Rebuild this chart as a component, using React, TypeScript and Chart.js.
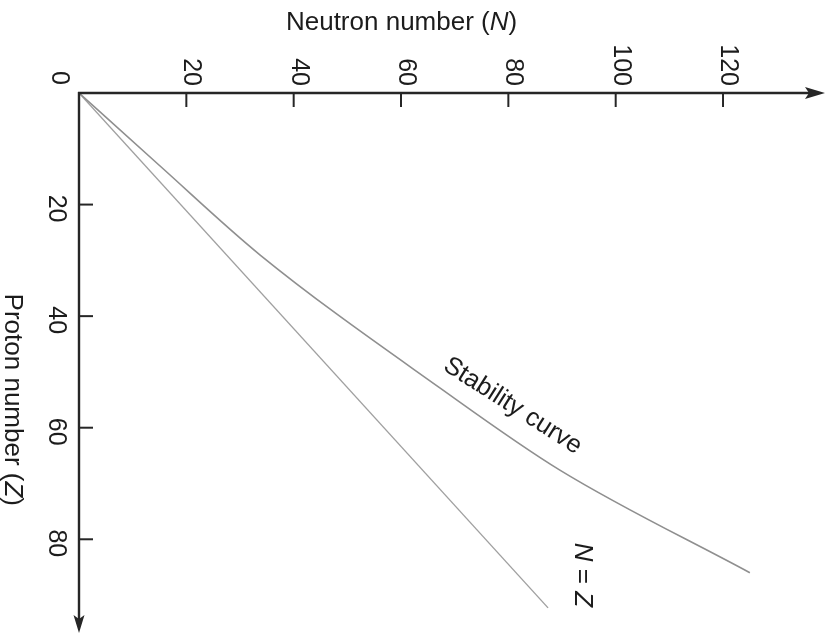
import { useEffect, useRef } from "react";
import { Chart, registerables } from "chart.js";

Chart.register(...registerables);

// Axis ticks
const neutronTicks = [20, 40, 60, 80, 100, 120];
const protonTicks = [20, 40, 60, 80];

// Stability curve (N, Z)
const stabilityN = [0, 15, 33.7, 67.3, 89.6, 125];
const stabilityZ = [0, 13, 29, 52.9, 67.6, 86];

// N = Z reference line
const equalN = [0, 87.4];
const equalZ = [0, 92.3];

// Axis extents (arrow tips)
const N_MAX = 139;
const Z_MAX = 96.8;

const FONT = '"Liberation Sans", Arial, Helvetica, sans-serif';
const INK = "#1c1c1c";

type Run = { text: string; italic?: boolean };

function drawRuns(
  ctx: CanvasRenderingContext2D,
  parts: Run[],
  x: number,
  y: number,
  angle: number,
  align: "left" | "center" | "right",
  size: number
) {
  ctx.save();
  ctx.translate(x, y);
  ctx.rotate(angle);
  ctx.textBaseline = "middle";
  ctx.textAlign = "left";
  ctx.fillStyle = INK;
  const fontOf = (p: Run) => `${p.italic ? "italic " : ""}${size}px ${FONT}`;
  const widths = parts.map((p) => {
    ctx.font = fontOf(p);
    return ctx.measureText(p.text).width;
  });
  const total = widths.reduce((a, b) => a + b, 0);
  let cx = align === "center" ? -total / 2 : align === "right" ? -total : 0;
  parts.forEach((p, i) => {
    ctx.font = fontOf(p);
    ctx.fillText(p.text, cx, 0);
    cx += widths[i];
  });
  ctx.restore();
}

const axesPlugin = {
  id: "nuclideAxes",
  afterDatasetsDraw(chart: any) {
    const ctx: CanvasRenderingContext2D = chart.ctx;
    const xs = chart.scales.x;
    const ys = chart.scales.y;
    const x0 = xs.getPixelForValue(0);
    const y0 = ys.getPixelForValue(0);
    const xEnd = xs.getPixelForValue(N_MAX);
    const yEnd = ys.getPixelForValue(Z_MAX);

    ctx.save();
    ctx.strokeStyle = "#262626";
    ctx.fillStyle = "#262626";
    ctx.lineWidth = 2.4;
    ctx.lineCap = "butt";

    // horizontal (N) axis
    ctx.beginPath();
    ctx.moveTo(x0 - 1, y0);
    ctx.lineTo(xEnd - 12, y0);
    ctx.stroke();
    ctx.beginPath();
    ctx.moveTo(xEnd, y0);
    ctx.lineTo(xEnd - 20, y0 - 6);
    ctx.lineTo(xEnd - 16, y0);
    ctx.lineTo(xEnd - 20, y0 + 6);
    ctx.closePath();
    ctx.fill();

    // vertical (Z) axis
    ctx.beginPath();
    ctx.moveTo(x0, y0 - 1);
    ctx.lineTo(x0, yEnd - 12);
    ctx.stroke();
    ctx.beginPath();
    ctx.moveTo(x0, yEnd);
    ctx.lineTo(x0 - 5.5, yEnd - 18);
    ctx.lineTo(x0, yEnd - 14);
    ctx.lineTo(x0 + 5.5, yEnd - 18);
    ctx.closePath();
    ctx.fill();

    // tick marks
    ctx.lineWidth = 2;
    neutronTicks.forEach((v) => {
      const px = xs.getPixelForValue(v);
      ctx.beginPath();
      ctx.moveTo(px, y0);
      ctx.lineTo(px, y0 + 14);
      ctx.stroke();
    });
    protonTicks.forEach((v) => {
      const py = ys.getPixelForValue(v);
      ctx.beginPath();
      ctx.moveTo(x0, py);
      ctx.lineTo(x0 + 14, py);
      ctx.stroke();
    });
    ctx.restore();

    const rot = Math.PI / 2;
    const size = 25;
    const titleSize = 26;

    // tick labels
    neutronTicks.forEach((v) => {
      const px = xs.getPixelForValue(v);
      drawRuns(ctx, [{ text: String(v) }], px + 5, y0 - 7, rot, "right", size);
    });
    protonTicks.forEach((v) => {
      const py = ys.getPixelForValue(v);
      drawRuns(ctx, [{ text: String(v) }], x0 - 23, py + 4, rot, "center", size);
    });
    drawRuns(ctx, [{ text: "0" }], x0 - 20, y0 - 15, rot, "center", size);

    // axis titles
    drawRuns(
      ctx,
      [{ text: "Neutron number (" }, { text: "N", italic: true }, { text: ")" }],
      xs.getPixelForValue(60.1),
      23,
      0,
      "center",
      titleSize
    );
    drawRuns(
      ctx,
      [{ text: "Proton number (" }, { text: "Z", italic: true }, { text: ")" }],
      12.5,
      ys.getPixelForValue(55),
      rot,
      "center",
      titleSize
    );

    // curve labels
    drawRuns(
      ctx,
      [{ text: "Stability curve" }],
      xs.getPixelForValue(80.8),
      ys.getPixelForValue(56.1),
      (32.5 * Math.PI) / 180,
      "center",
      25.5
    );
    drawRuns(
      ctx,
      [{ text: "N", italic: true }, { text: " = " }, { text: "Z", italic: true }],
      xs.getPixelForValue(93.7),
      ys.getPixelForValue(86.4),
      rot,
      "center",
      titleSize
    );
  },
};

export default function App() {
  const canvasRef = useRef<HTMLCanvasElement | null>(null);

  useEffect(() => {
    const canvas = canvasRef.current;
    if (!canvas) return;
    const chart = new Chart(canvas, {
      type: "scatter",
      data: {
        datasets: [
          {
            label: "Stability curve",
            data: stabilityN.map((n, i) => ({ x: n, y: stabilityZ[i] })),
            showLine: true,
            borderColor: "#8f8f8f",
            borderWidth: 1.6,
            pointRadius: 0,
            cubicInterpolationMode: "monotone",
          },
          {
            label: "N = Z",
            data: equalN.map((n, i) => ({ x: n, y: equalZ[i] })),
            showLine: true,
            borderColor: "#a0a0a0",
            borderWidth: 1.4,
            pointRadius: 0,
          },
        ],
      },
      options: {
        animation: false,
        responsive: false,
        devicePixelRatio: 1,
        layout: { padding: { left: 79, top: 93, right: 11, bottom: 2 } },
        plugins: {
          legend: { display: false },
          tooltip: { enabled: false },
        },
        scales: {
          x: { type: "linear", min: 0, max: N_MAX, display: false },
          y: { type: "linear", min: 0, max: Z_MAX, reverse: true, display: false },
        },
      },
      plugins: [axesPlugin],
    });
    return () => chart.destroy();
  }, []);

  return (
    <div
      style={{
        position: "fixed",
        left: 0,
        top: 0,
        width: 836,
        height: 635,
        background: "#ffffff",
      }}
    >
      <canvas ref={canvasRef} width={836} height={635} style={{ display: "block" }} />
    </div>
  );
}
